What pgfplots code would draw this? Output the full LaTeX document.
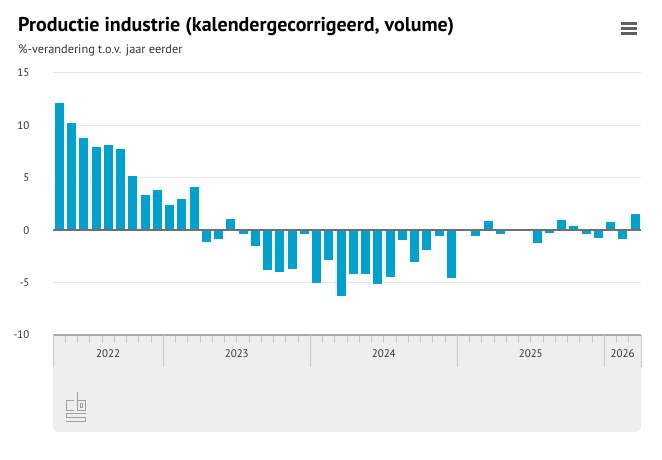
\documentclass[border=0pt]{standalone}
\usepackage{pgfplots}
\pgfplotsset{compat=1.18}
\usepackage{fontspec}
\setmainfont{PT Sans}
\definecolor{cbsblue}{HTML}{00A1CD}
\definecolor{gridgrey}{HTML}{E6E6E6}
\definecolor{zerogrey}{HTML}{707070}
\definecolor{bandgrey}{HTML}{EEEEEE}
\definecolor{tickgrey}{HTML}{C8C8C8}
\definecolor{textgrey}{HTML}{333333}
\definecolor{axisgrey}{HTML}{AAAAAA}
\definecolor{logogrey}{HTML}{A0A0A0}
\begin{document}
\begin{tikzpicture}[x=1pt,y=1pt]
\useasboundingbox (0,0) rectangle (662,460);
% title and subtitle
\node[anchor=base west, inner sep=0, font=\fontsize{20}{24}\bfseries\selectfont, text=black] at (18,428.3) {Productie industrie (kalendergecorrigeerd, volume)};
\node[anchor=base west, inner sep=0, font=\fontsize{12.3}{14}\selectfont, text=textgrey] at (18,406.7) {\%-verandering t.o.v. jaar eerder};
% menu icon
\foreach \yy in {23.5,28.5,33.5} {\fill[gray!75!black] (621,460-\yy-1.3) rectangle (637,460-\yy+1.3);}
% navigator band
\fill[bandgrey] (53,125) [rounded corners=6pt] -- (53,28) -- (641,28) [sharp corners] -- (641,125) -- cycle;
% cbs logo (approximate)
\begin{scope}[draw=logogrey, line width=0.6pt, double=white!92!gray, double distance=1.1pt]
  \draw (74,460-400.5) -- (66,460-400.5) -- (66,460-410) -- (74,460-410);
  \draw (77,460-392.5) -- (77,460-410) -- (85.5,460-410) -- (85.5,460-400.5) -- (77,460-400.5);
  \draw (80,460-403.5) rectangle (82.5,460-407);
  \draw (85.5,460-413) -- (66,460-413) -- (66,460-417) -- (85.5,460-417) -- (85.5,460-421) -- (66,460-421);
\end{scope}
\begin{axis}[
  at={(53pt,229.8pt)}, anchor=origin,
  width=588pt, height=262pt, scale only axis,
  xmin=0, xmax=48, ymin=-10, ymax=15,
  axis x line*=bottom, axis y line*=left,
  x axis line style={draw=axisgrey, line width=1.5pt, -},
  y axis line style={draw=none},
  ytick={-10,-5,0,5,10,15},
  yticklabels={-10,-5,0,5,10,15},
  ymajorgrids, grid style={gridgrey, line width=1pt},
  ytick style={draw=none},
  yticklabel style={font=\fontsize{11}{13}\selectfont, text=textgrey, xshift=-12pt},
  xtick={0,...,48}, xticklabel=\empty,
  tick align=outside,
  xtick style={draw=tickgrey, line width=0.8pt},
  major tick length=8pt,
  extra x ticks={0,9,21,33,45,48},
  extra x tick style={major tick length=32pt, grid=none, xticklabel=\empty},
  clip=false,
  ybar, bar width=10pt, bar shift=0pt,
]
\addplot[fill=cbsblue, draw=white, line width=0.7pt] coordinates {
(0.5,12.2) (1.5,10.3) (2.5,8.9) (3.5,8.0) (4.5,8.2) (5.5,7.8) (6.5,5.2) (7.5,3.4) (8.5,3.9)
(9.5,2.5) (10.5,3.0) (11.5,4.2) (12.5,-1.2) (13.5,-0.9) (14.5,1.1) (15.5,-0.4) (16.5,-1.5) (17.5,-3.8) (18.5,-4.0) (19.5,-3.7) (20.5,-0.4)
(21.5,-5.1) (22.5,-2.9) (23.5,-6.3) (24.5,-4.2) (25.5,-4.2) (26.5,-5.2) (27.5,-4.5) (28.5,-1.0) (29.5,-3.1) (30.5,-1.9) (31.5,-0.6) (32.5,-4.6)
(33.5,0.1) (34.5,-0.6) (35.5,0.9) (36.5,-0.4) (37.5,-0.1) (38.5,-0.1) (39.5,-1.3) (40.5,-0.3) (41.5,1.0) (42.5,0.5) (43.5,-0.4) (44.5,-0.8)
(45.5,0.8) (46.5,-0.9) (47.5,1.6)
};
\draw[zerogrey, line width=1.5pt] (axis cs:0,0) -- (axis cs:48,0);
\node[font=\fontsize{11}{13}\selectfont, text=textgrey, yshift=-19pt] at (axis cs:4.5,-10) {2022};
\node[font=\fontsize{11}{13}\selectfont, text=textgrey, yshift=-19pt] at (axis cs:15,-10) {2023};
\node[font=\fontsize{11}{13}\selectfont, text=textgrey, yshift=-19pt] at (axis cs:27,-10) {2024};
\node[font=\fontsize{11}{13}\selectfont, text=textgrey, yshift=-19pt] at (axis cs:39,-10) {2025};
\node[font=\fontsize{11}{13}\selectfont, text=textgrey, yshift=-19pt] at (axis cs:46.5,-10) {2026};
\end{axis}
\end{tikzpicture}
\end{document}
